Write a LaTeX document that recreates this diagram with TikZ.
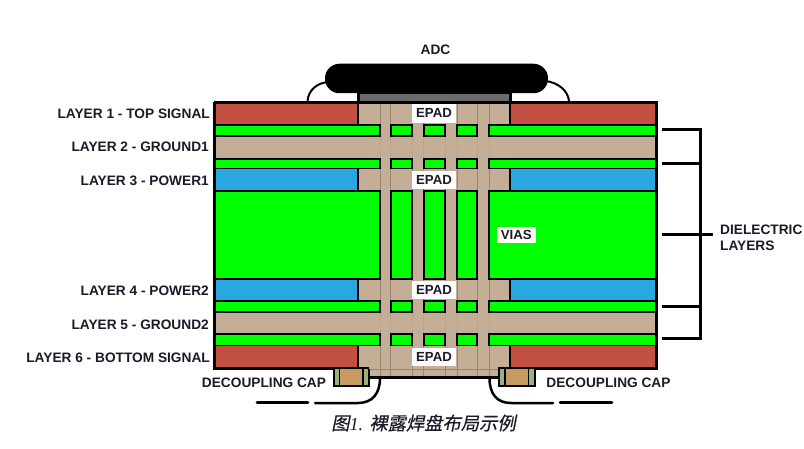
\documentclass[tikz,border=0pt]{standalone}
\usepackage{fontspec}
\setmainfont{Liberation Sans}
\newfontfamily\capserif{Liberation Serif}
\newfontfamily\capcjk[FakeSlant=0.2,FakeBold=0.3]{Noto Sans CJK SC}
\definecolor{tanvia}{HTML}{C4AE96}
\definecolor{viaedge}{HTML}{958673}
\definecolor{viafaint}{HTML}{B9A48E}
\definecolor{redcu}{HTML}{C25144}
\definecolor{bluecu}{HTML}{29A8DF}
\definecolor{diel}{HTML}{00FF00}
\definecolor{padgray}{HTML}{6B6B6B}
\definecolor{capend}{HTML}{9CAF7E}
\definecolor{capbody}{HTML}{C89B62}
\definecolor{inkc}{HTML}{1A1A28}
\tikzset{
  lab/.style={font=\bfseries\fontsize{13.7}{15}\selectfont,text=inkc,inner sep=0pt},
  padlab/.style={font=\bfseries\fontsize{13.2}{15}\selectfont,text=inkc,fill=white,inner sep=0pt,minimum width=44pt,minimum height=18.5pt},
  dielbar/.style={fill=diel,draw=black,line width=1.8pt},
  cubar/.style={draw=black,line width=1.6pt},
  heavy/.style={draw=black,line width=3pt},
  leader/.style={draw=black,line width=2.8pt,line cap=round},
  wire/.style={draw=black,line width=2pt},
}
\begin{document}
\begin{tikzpicture}[x=1pt,y=-1pt]
\useasboundingbox (0,0) rectangle (804,449);
\fill[white] (0,0) rectangle (804,449);
% board base
\fill[tanvia] (214,102.5) rectangle (656.5,368);
\fill[tanvia] (369,368) rectangle (497.5,377);
% copper
\foreach \ya/\yb/\c in {103/124/redcu,169/191/bluecu,279/301/bluecu,346/368/redcu}{
  \fill[\c] (214,\ya) rectangle (357.5,\yb);
  \fill[\c] (510,\ya) rectangle (656.5,\yb);
  \draw[cubar] (357.8,\ya) -- (357.8,\yb);
  \draw[cubar] (509.8,\ya) -- (509.8,\yb);
}
% via edges in copper and ground layers
\foreach \x in {380.3,390.7,412,423.7,445,457.2,477,489}{
  \draw[viaedge,line width=.9pt] (\x,103) -- (\x,124);
  \draw[viafaint,line width=.8pt] (\x,136) -- (\x,159);
  \draw[viaedge,line width=.9pt] (\x,169) -- (\x,191);
  \draw[viaedge,line width=.9pt] (\x,279) -- (\x,301);
  \draw[viafaint,line width=.8pt] (\x,311) -- (\x,334);
  \draw[viaedge,line width=.9pt] (\x,346) -- (\x,376);
}
% dielectric bars
\foreach \ya/\yb in {124.8/135.8,158.8/168.6,191.4/279.2,301/311.8,334.4/345.6}{
  \foreach \xa/\xb in {214/380.3,390.7/412,423.7/445,457.2/477,489/656.5}{
    \draw[dielbar] (\xa,\ya) rectangle (\xb,\yb);
  }
}
% board outline
\draw[heavy] (214,102.5) -- (656.5,102.5) -- (656.5,368) -- (369,368);
\draw[heavy] (214,102.5) -- (214,368) -- (369,368);
\draw[heavy] (497.5,368) -- (656.5,368);
\fill[tanvia] (369,366.8) rectangle (497.5,376);
\foreach \x in {380.3,390.7,412,423.7,445,457.2,477,489}{
  \draw[viaedge,line width=.9pt] (\x,366.8) -- (\x,376);
}
\draw[viaedge,line width=.8pt] (369,369.5) -- (497.5,369.5);
\draw[black,line width=3pt] (368.5,377.5) -- (498,377.5);
% package
\fill[black] (356.8,92) rectangle (511.5,102);
\fill[padgray] (360,94) rectangle (509,101);
\node[fill=black,rounded corners=14.5pt,minimum width=223pt,minimum height=29.5pt,inner sep=0pt] (adcbody) at (436.5,78.5) {};
\coordinate (leadL) at (307.5,101);
\coordinate (leadLtop) at (328,82);
\coordinate (leadR) at (569,101);
\coordinate (leadRtop) at (546,81);
\draw[wire] (leadL) .. controls (308.5,90) and (317,83) .. (leadLtop);
\draw[wire] (leadRtop) .. controls (559,83) and (568,91) .. (leadR);
% decoupling caps
\foreach \xa/\xb/\xc/\xd/\xe/\xf in {333.5/339.5/339.5/363/363/368.5,499/505/505/528.5/528.5/535}{
  \fill[capend] (\xa,369) rectangle (\xb,386);
  \fill[capbody] (\xc,369) rectangle (\xd,386);
  \fill[capend] (\xe,369) rectangle (\xf,386);
  \draw[black,line width=1.6pt] (\xb,369) -- (\xb,386);
  \draw[black,line width=1.6pt] (\xd,369) -- (\xd,386);
  \draw[black,line width=2pt] (\xa,369) -- (\xa,386.3) -- (\xf,386.3) -- (\xf,369);
}
% leaders to the decoupling caps
\coordinate (dlA) at (257,402.7);
\coordinate (dlB) at (308,402.7);
\coordinate (dlC) at (315,403);
\coordinate (dlD) at (380,378);
\coordinate (drA) at (489.5,378);
\coordinate (drB) at (553,403);
\coordinate (drC) at (560,402.7);
\coordinate (drD) at (612,402.7);
\draw[leader] (dlA) -- (dlB);
\draw[wire,line width=2.5pt,line cap=round] (dlC) -- (358,403) .. controls (372,403) and (380,394) .. (dlD);
\draw[wire,line width=2.5pt,line cap=round] (drA) .. controls (489.5,394) and (497,403) .. (511,403) -- (drB);
\draw[leader] (drC) -- (drD);
% bracket
\coordinate (brA) at (662,129.3);
\coordinate (brB) at (662,163.3);
\coordinate (brC) at (662,235);
\coordinate (brD) at (662,306.7);
\coordinate (brE) at (662,339);
\coordinate (brC2) at (712.5,235);
\draw[heavy] (brA) -- (700.8,129.3) -- (700.8,339) -- (brE);
\draw[heavy] (brB) -- (700.8,163.3);
\draw[heavy] (brC) -- (brC2);
\draw[heavy] (brD) -- (700.8,306.7);
% EPAD labels
\node[padlab] (epadA) at (434,113.3) {EPAD};
\node[padlab] (epadB) at (434,180.2) {EPAD};
\node[padlab] (epadC) at (434,289.8) {EPAD};
\node[padlab] (epadD) at (434,357.2) {EPAD};
\node[padlab,minimum width=38.5pt,minimum height=16.5pt] (vias) at (516.3,235) {VIAS};
% texts
\node[lab,anchor=east] (l1) at (210,114) {LAYER 1 - TOP SIGNAL};
\node[lab,anchor=east] (l2) at (209,147) {LAYER 2 - GROUND1};
\node[lab,anchor=east] (l3) at (209,181) {LAYER 3 - POWER1};
\node[lab,anchor=east] (l4) at (209,291) {LAYER 4 - POWER2};
\node[lab,anchor=east] (l5) at (209,325) {LAYER 5 - GROUND2};
\node[lab,anchor=east] (l6) at (210,358) {LAYER 6 - BOTTOM SIGNAL};
\node[lab] (adc) at (435.5,50) {ADC};
\node[lab,anchor=west] (dielA) at (720,230) {DIELECTRIC};
\node[lab,anchor=west] (dielB) at (720,246) {LAYERS};
\node[lab] (capL) at (264,383) {DECOUPLING CAP};
\node[lab] (capR) at (608.5,383) {DECOUPLING CAP};
\node[inner sep=0pt,text=inkc] (caption) at (423.5,423) {\fontsize{18.3}{20}\selectfont{\capcjk 图}{\capserif\itshape 1. }{\capcjk 裸露焊盘布局示例}};
\end{tikzpicture}
\end{document}
